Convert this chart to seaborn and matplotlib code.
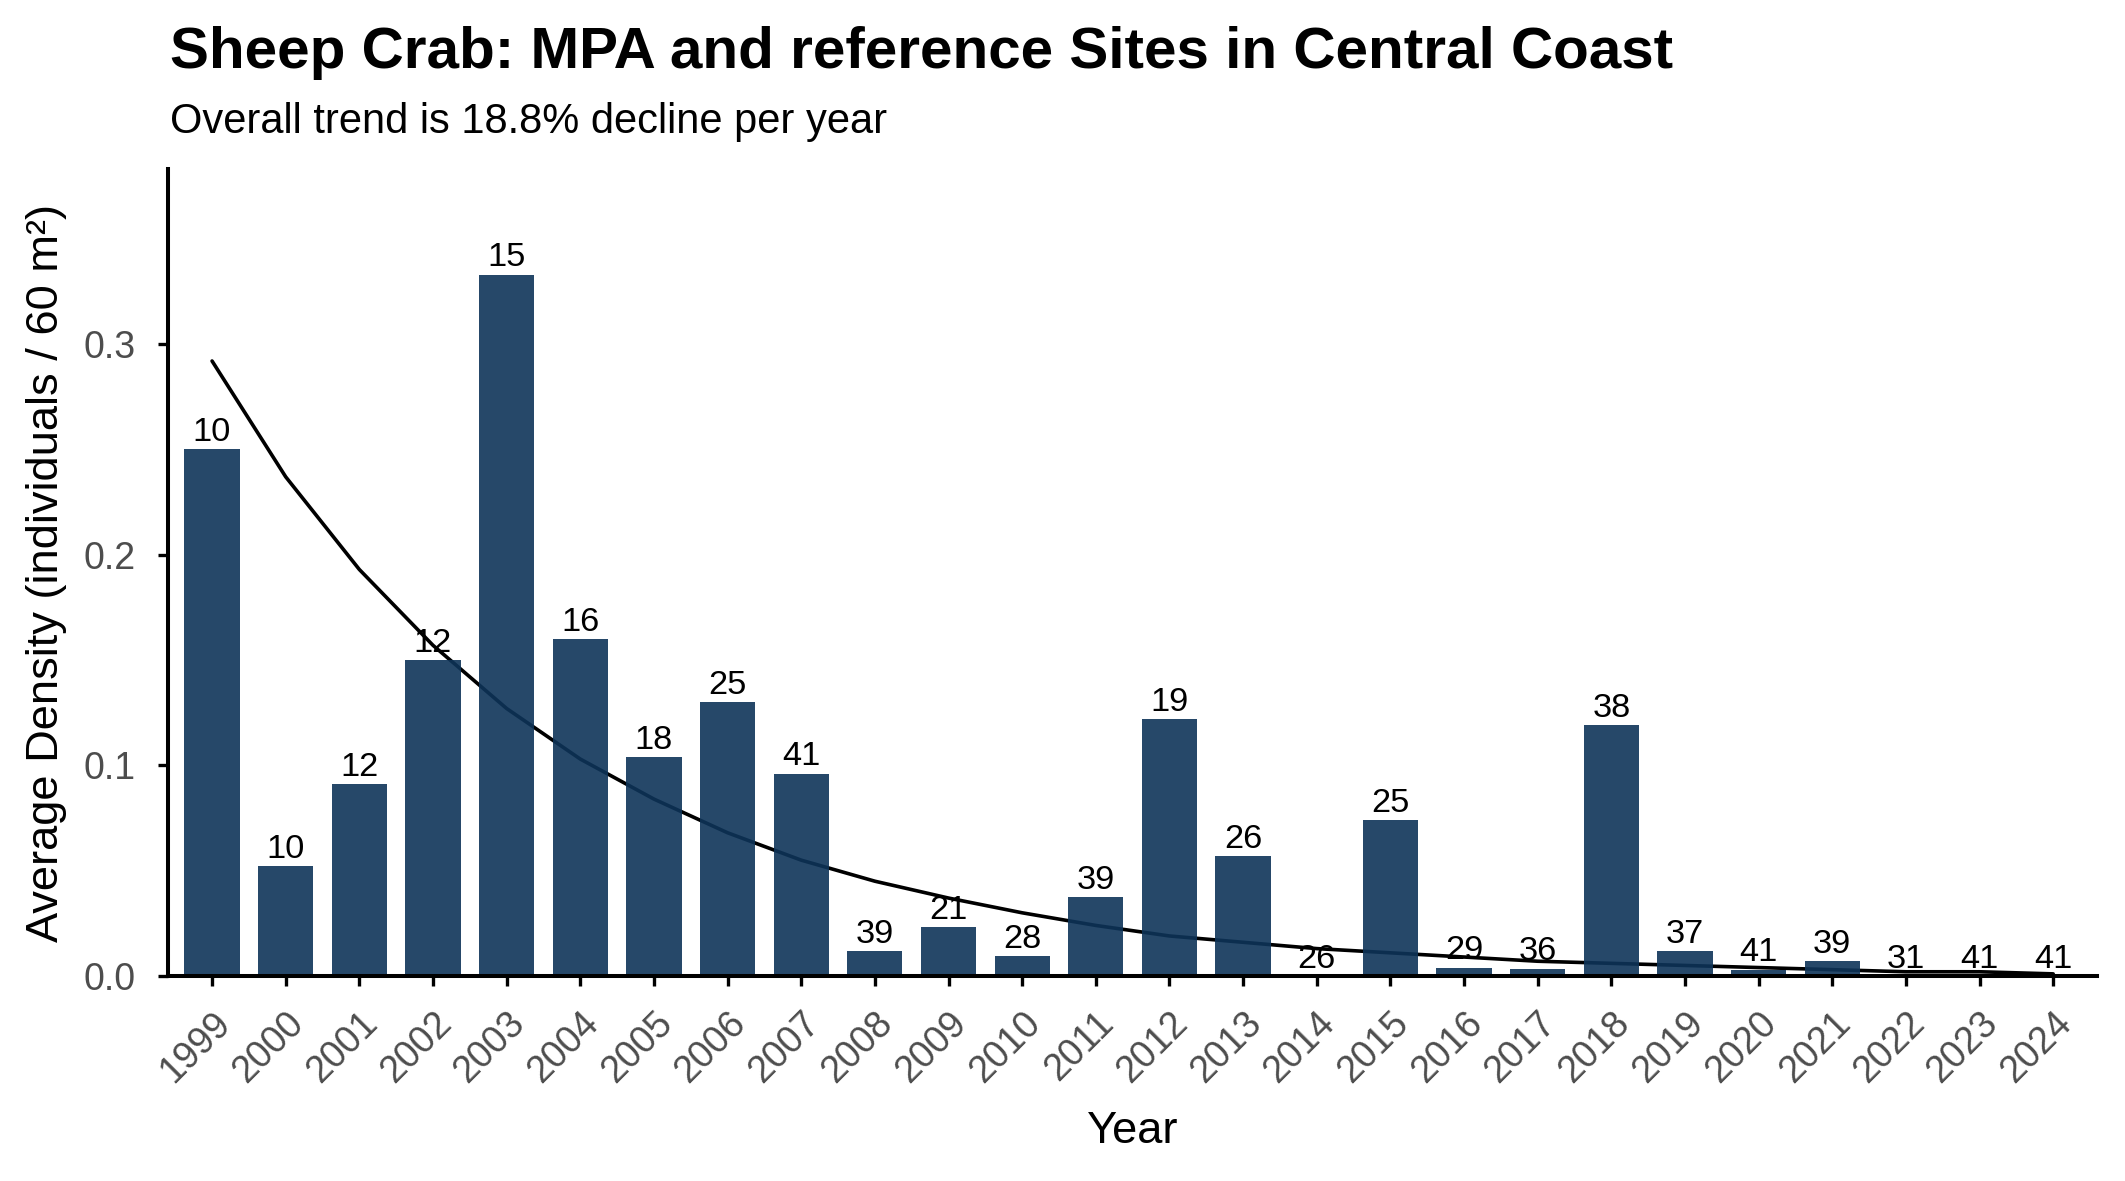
import numpy as np
import pandas as pd
import matplotlib
matplotlib.use("Agg")
import matplotlib.pyplot as plt
import seaborn as sns

# valores
anos = [str(a) for a in range(1999, 2025)]
densidade = [0.250, 0.052, 0.091, 0.150, 0.333, 0.160, 0.104, 0.130, 0.096,
             0.0117, 0.0231, 0.0094, 0.0374, 0.122, 0.0569, 0.0, 0.074,
             0.0040, 0.0035, 0.119, 0.0117, 0.0030, 0.0071, 0.0, 0.0, 0.0]
n_amostras = [10, 10, 12, 12, 15, 16, 18, 25, 41, 39, 21, 28, 39, 19, 26,
              26, 25, 29, 36, 38, 37, 41, 39, 31, 41, 41]
tendencia = [0.292, 0.237, 0.193, 0.157, 0.127, 0.103, 0.084, 0.068, 0.055,
             0.045, 0.037, 0.030, 0.024, 0.019, 0.016, 0.013, 0.011, 0.009,
             0.007, 0.006, 0.005, 0.004, 0.003, 0.002, 0.002, 0.001]

titulo = "Sheep Crab: MPA and reference Sites in Central Coast"
subtitulo = "Overall trend is 18.8% decline per year"

sns.set_style("white")
plt.rcParams['font.family'] = ['Liberation Sans', 'DejaVu Sans']
plt.rcParams['text.color'] = 'black'

dados = pd.DataFrame({'ano': anos, 'densidade': densidade,
                      'n': n_amostras, 'tendencia': tendencia})

fig = plt.figure(figsize=(10.625, 5.905), dpi=200)
ax = fig.add_axes([0.079, 0.1736, 0.908, 0.683])

# linha de tendência atrás das barras
sns.pointplot(data=dados, x='ano', y='tendencia', color='black', markers='',
              linewidth=1.3, ax=ax)
for linha in ax.lines:
    linha.set_zorder(2)

sns.barplot(data=dados, x='ano', y='densidade', color='#0E3459', alpha=0.9,
            width=0.75, saturation=1, edgecolor='none', linewidth=0, ax=ax)
barras = ax.containers[-1]
for b in barras:
    b.set_zorder(3)
ax.bar_label(barras, labels=[str(v) for v in n_amostras],
             padding=0.5, fontsize=12.4, color='black', zorder=4)

ax.set_xlim(-0.6, len(anos) - 0.4)
ax.set_ylim(0, 0.383)
ax.set_yticks([0.0, 0.1, 0.2, 0.3])
ax.set_yticklabels(['0.0', '0.1', '0.2', '0.3'])

for lado in ['top', 'right']:
    ax.spines[lado].set_visible(False)
for lado in ['left', 'bottom']:
    ax.spines[lado].set_linewidth(1.45)
    ax.spines[lado].set_color('black')
    ax.spines[lado].set_zorder(5)

ax.tick_params(axis='both', length=3.6, width=1.2, color='black',
               labelsize=13.5, labelcolor='#4D4D4D', bottom=True, left=True)
ax.tick_params(axis='y', pad=8)
ax.tick_params(axis='x', pad=7)
plt.setp(ax.get_xticklabels(), rotation=45, ha='right', va='top',
         rotation_mode='anchor')

ax.set_xlabel('')
ax.set_ylabel('')
fig.text(0.5 * (0.079 + 0.987), 0.042, 'Year', fontsize=16.3, ha='center',
         va='center')
fig.text(0.022, 0.1736 + 0.683 / 2, 'Average Density (individuals / 60 m²)',
         fontsize=16.3, rotation=90, ha='center', va='center')

fig.text(0.08, 0.942, titulo, fontsize=21, weight='bold', ha='left',
         va='baseline')
fig.text(0.08, 0.887, subtitulo, fontsize=15, ha='left', va='baseline')

fig.savefig('out.png', dpi=200, facecolor='white')
